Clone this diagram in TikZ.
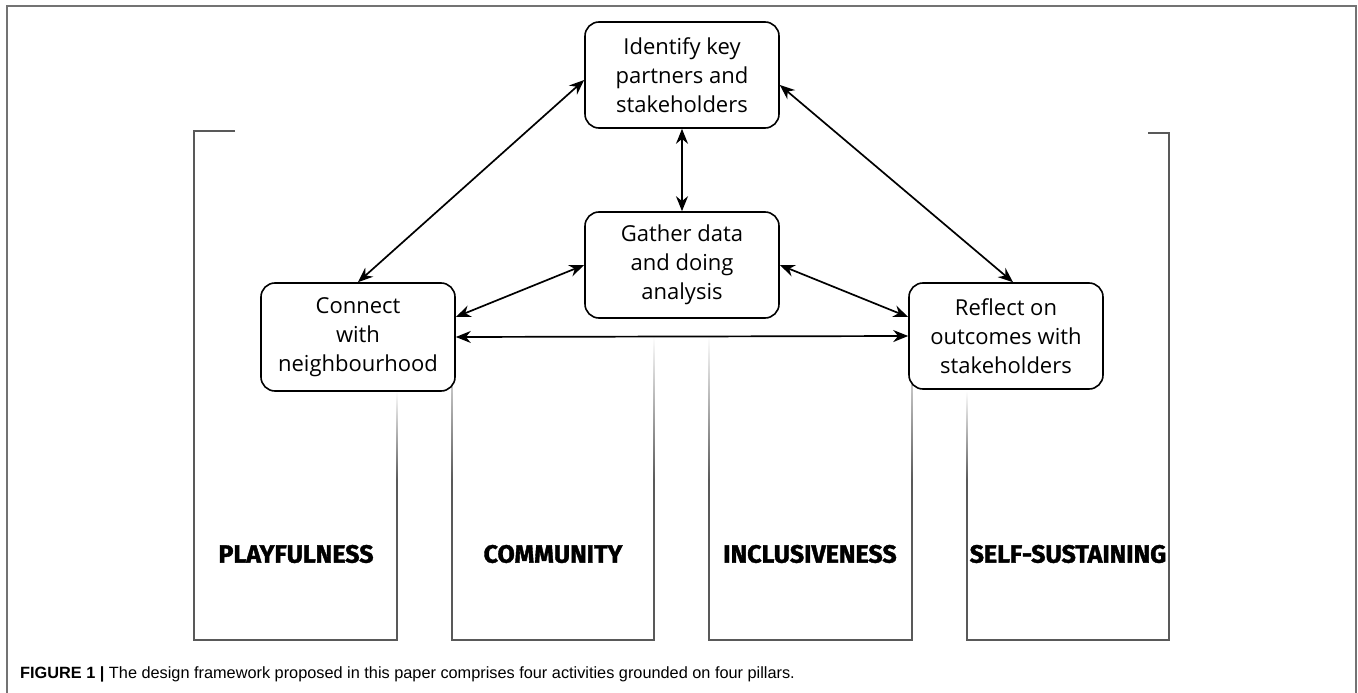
\documentclass[tikz,border=0pt]{standalone}
\usepackage{fontspec}
\setmainfont{Open Sans}
\newfontfamily\pillarfont{Fira Sans}[BoldFeatures={FakeBold=1.5}]
\newfontfamily\capfont{Liberation Sans}
\usetikzlibrary{arrows.meta}

\begin{document}
\begin{tikzpicture}[x=1pt, y=-1pt, >={Stealth[length=15pt, width=12pt]},
    activity/.style={draw, fill=white, rounded corners=14pt, line width=1.6pt, minimum width=194pt, minimum height=106pt, align=center, inner sep=0pt, font=\fontsize{22}{29}\selectfont},
    link/.style={<->, line width=1.7pt},
    pillar/.style={draw=black!65, line width=1.2pt},
    fadeline/.style={top color=white, bottom color=black!65},
    pillarname/.style={font=\pillarfont\fontsize{25}{28}\selectfont\bfseries}]
      \useasboundingbox (0,0) rectangle (1358,693);
      \draw[black!55, line width=1.5pt] (7,693) -- (7,6) -- (1356,6) -- (1356,693);

      % pillars
      \draw[pillar] (235,131) -- (194,131) -- (194,640) -- (397,640) -- (397,480);
      \draw[pillar] (452,480) -- (452,640) -- (654,640) -- (654,480);
      \draw[pillar] (709,480) -- (709,640) -- (912,640) -- (912,480);
      \draw[pillar] (967,480) -- (967,640) -- (1169,640) -- (1169,133) -- (1148,133);
      \foreach \x/\y in {397/391, 452/336, 654/336, 709/336, 912/336, 967/391}
        \shade[fadeline] (\x-0.6,\y) rectangle (\x+0.6,480);

      \node[pillarname] (play) at (296,554) {PLAYFULNESS};
      \node[pillarname] (comm) at (553,554) {COMMUNITY};
      \node[pillarname] (incl) at (810,554) {INCLUSIVENESS};
      \node[pillarname] (self) at (1068,554) {SELF-SUSTAINING};

      % activities
      \node[activity] (partners) at (682,75) {Identify key\\partners and\\stakeholders};
      \node[activity] (gather) at (682,265) {Gather data\\and doing\\analysis};
      \node[activity, minimum height=108pt] (connect) at (358,337) {Connect\\with\\neighbourhood};
      \node[activity] (reflect) at (1006,336) {Reflect on\\outcomes with\\stakeholders};

      \draw[link] ([yshift=-5pt]partners.west) -- (connect.north);
      \draw[link] ([yshift=-10pt]partners.east) -- ([xshift=7pt]reflect.north);
      \draw[link] (partners) -- (gather);
      \draw[link] (gather.west) -- ([yshift=20pt]connect.east);
      \draw[link] (gather.east) -- ([yshift=19pt]reflect.west);
      \draw[link] (connect.east) -- (reflect.west);

      \node[anchor=base west, inner sep=0pt, font=\capfont\fontsize{16.3}{18}\selectfont] (caption) at (20,678)
        {\textbf{FIGURE 1 |} The design framework proposed in this paper comprises four activities grounded on four pillars.};
    \end{tikzpicture}
\end{document}
